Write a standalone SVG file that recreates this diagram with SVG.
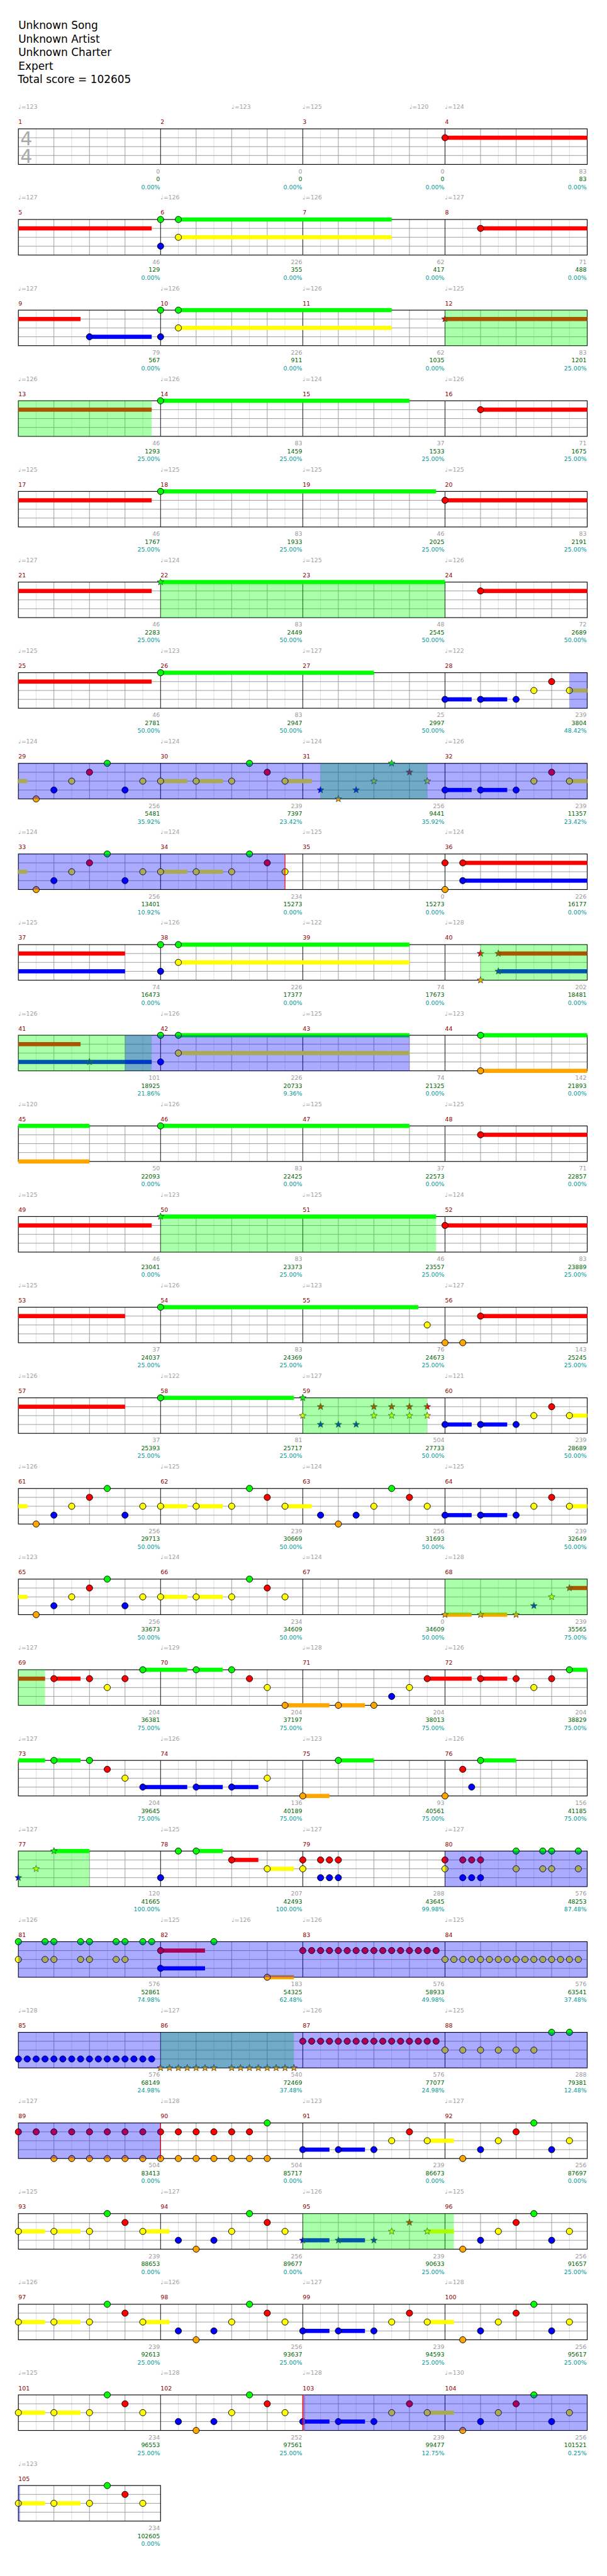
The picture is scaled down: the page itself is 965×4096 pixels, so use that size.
<svg xmlns="http://www.w3.org/2000/svg" xmlns:xlink="http://www.w3.org/1999/xlink" width="965" height="4096" viewBox="0 0 965 4096">
<style>
text{font-family:"DejaVu Sans","Liberation Sans",sans-serif}
.h{font-size:18px;fill:#000}
.tp{font-size:10px;fill:#a0a0a0}
.mn{font-size:10px;fill:#8b0000}
.l1{font-size:10px;fill:#999;text-anchor:end}
.l2{font-size:10px;fill:#006400;text-anchor:end}
.l3{font-size:10px;fill:#009999;text-anchor:end}
.ts{font-size:32px;fill:#aaa;text-anchor:middle}
.g{fill:#00ff00}.r{fill:#ff0000}.y{fill:#ffff00}.b{fill:#0000ff}.o{fill:#ffa500}
.n{stroke:#000;stroke-width:1}
.s{stroke:#333;stroke-width:.8}
.sp{fill:#00ff00;fill-opacity:.333}
.ac{fill:#0000ff;fill-opacity:.333}
.el{stroke:#f00;stroke-width:1.2}
</style>
<defs>
<g id="m">
<path d="M30,0V60M90,0V60M150,0V60M210,0V60" stroke="#ddd"/>
<path d="M60,0V60M120,0V60M180,0V60" stroke="#999"/>
<path d="M0,15H240M0,30H240M0,45H240" stroke="#999"/>
</g>
<g id="st4">
<use href="#m"/><use href="#m" x="240"/><use href="#m" x="480"/><use href="#m" x="720"/>
<path d="M240,0V60M480,0V60M720,0V60" stroke="#000"/>
<rect width="960" height="60" fill="none" stroke="#000" stroke-width="1.2"/>
</g>
<circle id="G" r="5.3" class="g n"/>
<circle id="R" cy="15" r="5.3" class="r n"/>
<circle id="Y" cy="30" r="5.3" class="y n"/>
<circle id="B" cy="45" r="5.3" class="b n"/>
<circle id="O" cy="60" r="5.3" class="o n"/>
<path id="SG" class="g s" d="M0,-6L1.47,-2.02L5.71,-1.85L2.38,0.77L3.53,4.85L0,2.5L-3.53,4.85L-2.38,0.77L-5.71,-1.85L-1.47,-2.02Z"/>
<path id="SR" class="r s" transform="translate(0,15)" d="M0,-6L1.47,-2.02L5.71,-1.85L2.38,0.77L3.53,4.85L0,2.5L-3.53,4.85L-2.38,0.77L-5.71,-1.85L-1.47,-2.02Z"/>
<path id="SY" class="y s" transform="translate(0,30)" d="M0,-6L1.47,-2.02L5.71,-1.85L2.38,0.77L3.53,4.85L0,2.5L-3.53,4.85L-2.38,0.77L-5.71,-1.85L-1.47,-2.02Z"/>
<path id="SB" class="b s" transform="translate(0,45)" d="M0,-6L1.47,-2.02L5.71,-1.85L2.38,0.77L3.53,4.85L0,2.5L-3.53,4.85L-2.38,0.77L-5.71,-1.85L-1.47,-2.02Z"/>
<path id="SO" class="o s" transform="translate(0,60)" d="M0,-6L1.47,-2.02L5.71,-1.85L2.38,0.77L3.53,4.85L0,2.5L-3.53,4.85L-2.38,0.77L-5.71,-1.85L-1.47,-2.02Z"/>
</defs>
<rect width="965" height="4096" fill="#fff"/>
<g transform="scale(0.942)">
<g id="header">
<text class="h" x="31" y="49.3">Unknown Song</text>
<text class="h" x="31" y="72.1">Unknown Artist</text>
<text class="h" x="31" y="94.9">Unknown Charter</text>
<text class="h" x="31" y="117.7">Expert</text>
<text class="h" x="30" y="140.5">Total score = 102605</text>
</g>

<g id="row1" transform="translate(31,217.5)">
<text class="tp" y="-33.5"><tspan x="0">♩=123</tspan><tspan x="360">♩=123</tspan><tspan x="480">♩=125</tspan><tspan x="660">♩=120</tspan><tspan x="720">♩=124</tspan></text>
<text class="mn" y="-8"><tspan x="0">1</tspan><tspan x="240">2</tspan><tspan x="480">3</tspan><tspan x="720">4</tspan></text>
<use href="#st4"/>
<text class="ts" x="13.5" y="27.5">4</text><text class="ts" x="13.5" y="57.5">4</text>
<rect class="r" x="720" y="11.5" width="240" height="7"/>
<use href="#R" x="720"/>
<text class="l1" y="75.2"><tspan x="239">0</tspan><tspan x="479">0</tspan><tspan x="719">0</tspan><tspan x="959">83</tspan></text>
<text class="l2" y="88.5"><tspan x="239">0</tspan><tspan x="479">0</tspan><tspan x="719">0</tspan><tspan x="959">83</tspan></text>
<text class="l3" y="101.7"><tspan x="239">0.00%</tspan><tspan x="479">0.00%</tspan><tspan x="719">0.00%</tspan><tspan x="959">0.00%</tspan></text>
</g>

<g id="row2" transform="translate(31,370.5)">
<text class="tp" y="-33.5"><tspan x="0">♩=127</tspan><tspan x="240">♩=126</tspan><tspan x="480">♩=126</tspan><tspan x="720">♩=127</tspan></text>
<text class="mn" y="-8"><tspan x="0">5</tspan><tspan x="240">6</tspan><tspan x="480">7</tspan><tspan x="720">8</tspan></text>
<use href="#st4"/>
<rect class="r" x="0" y="11.5" width="225" height="7"/>
<rect class="g" x="270" y="-3.5" width="360" height="7"/>
<rect class="y" x="270" y="26.5" width="360" height="7"/>
<rect class="r" x="780" y="11.5" width="180" height="7"/>
<use href="#G" x="240"/><use href="#B" x="240"/><use href="#G" x="270"/><use href="#Y" x="270"/><use href="#R" x="780"/>
<text class="l1" y="75.2"><tspan x="239">46</tspan><tspan x="479">226</tspan><tspan x="719">62</tspan><tspan x="959">71</tspan></text>
<text class="l2" y="88.5"><tspan x="239">129</tspan><tspan x="479">355</tspan><tspan x="719">417</tspan><tspan x="959">488</tspan></text>
<text class="l3" y="101.7"><tspan x="239">0.00%</tspan><tspan x="479">0.00%</tspan><tspan x="719">0.00%</tspan><tspan x="959">0.00%</tspan></text>
</g>

<g id="row3" transform="translate(31,523.5)">
<text class="tp" y="-33.5"><tspan x="0">♩=127</tspan><tspan x="240">♩=126</tspan><tspan x="480">♩=126</tspan><tspan x="720">♩=125</tspan></text>
<text class="mn" y="-8"><tspan x="0">9</tspan><tspan x="240">10</tspan><tspan x="480">11</tspan><tspan x="720">12</tspan></text>
<use href="#st4"/>
<rect class="r" x="0" y="11.5" width="105" height="7"/>
<rect class="b" x="120" y="41.5" width="105" height="7"/>
<rect class="g" x="270" y="-3.5" width="360" height="7"/>
<rect class="y" x="270" y="26.5" width="360" height="7"/>
<rect class="r" x="720" y="11.5" width="240" height="7"/>
<use href="#B" x="120"/><use href="#B" x="240"/><use href="#G" x="240"/><use href="#G" x="270"/><use href="#Y" x="270"/><use href="#SR" x="720"/>
<rect class="sp" x="720" y="0" width="240" height="60"/>
<text class="l1" y="75.2"><tspan x="239">79</tspan><tspan x="479">226</tspan><tspan x="719">62</tspan><tspan x="959">83</tspan></text>
<text class="l2" y="88.5"><tspan x="239">567</tspan><tspan x="479">911</tspan><tspan x="719">1035</tspan><tspan x="959">1201</tspan></text>
<text class="l3" y="101.7"><tspan x="239">0.00%</tspan><tspan x="479">0.00%</tspan><tspan x="719">0.00%</tspan><tspan x="959">25.00%</tspan></text>
</g>

<g id="row4" transform="translate(31,676.5)">
<text class="tp" y="-33.5"><tspan x="0">♩=126</tspan><tspan x="240">♩=126</tspan><tspan x="480">♩=124</tspan><tspan x="720">♩=126</tspan></text>
<text class="mn" y="-8"><tspan x="0">13</tspan><tspan x="240">14</tspan><tspan x="480">15</tspan><tspan x="720">16</tspan></text>
<use href="#st4"/>
<rect class="r" x="0" y="11.5" width="225" height="7"/>
<rect class="g" x="240" y="-3.5" width="420" height="7"/>
<rect class="r" x="780" y="11.5" width="180" height="7"/>
<use href="#G" x="240"/><use href="#R" x="780"/>
<rect class="sp" x="0" y="0" width="225" height="60"/>
<text class="l1" y="75.2"><tspan x="239">46</tspan><tspan x="479">83</tspan><tspan x="719">37</tspan><tspan x="959">71</tspan></text>
<text class="l2" y="88.5"><tspan x="239">1293</tspan><tspan x="479">1459</tspan><tspan x="719">1533</tspan><tspan x="959">1675</tspan></text>
<text class="l3" y="101.7"><tspan x="239">25.00%</tspan><tspan x="479">25.00%</tspan><tspan x="719">25.00%</tspan><tspan x="959">25.00%</tspan></text>
</g>

<g id="row5" transform="translate(31,829.5)">
<text class="tp" y="-33.5"><tspan x="0">♩=125</tspan><tspan x="240">♩=125</tspan><tspan x="480">♩=125</tspan><tspan x="720">♩=125</tspan></text>
<text class="mn" y="-8"><tspan x="0">17</tspan><tspan x="240">18</tspan><tspan x="480">19</tspan><tspan x="720">20</tspan></text>
<use href="#st4"/>
<rect class="r" x="0" y="11.5" width="225" height="7"/>
<rect class="g" x="240" y="-3.5" width="465" height="7"/>
<rect class="r" x="720" y="11.5" width="240" height="7"/>
<use href="#G" x="240"/><use href="#R" x="720"/>
<text class="l1" y="75.2"><tspan x="239">46</tspan><tspan x="479">83</tspan><tspan x="719">46</tspan><tspan x="959">83</tspan></text>
<text class="l2" y="88.5"><tspan x="239">1767</tspan><tspan x="479">1933</tspan><tspan x="719">2025</tspan><tspan x="959">2191</tspan></text>
<text class="l3" y="101.7"><tspan x="239">25.00%</tspan><tspan x="479">25.00%</tspan><tspan x="719">25.00%</tspan><tspan x="959">25.00%</tspan></text>
</g>

<g id="row6" transform="translate(31,982.5)">
<text class="tp" y="-33.5"><tspan x="0">♩=127</tspan><tspan x="240">♩=124</tspan><tspan x="480">♩=125</tspan><tspan x="720">♩=126</tspan></text>
<text class="mn" y="-8"><tspan x="0">21</tspan><tspan x="240">22</tspan><tspan x="480">23</tspan><tspan x="720">24</tspan></text>
<use href="#st4"/>
<rect class="r" x="0" y="11.5" width="225" height="7"/>
<rect class="g" x="240" y="-3.5" width="480" height="7"/>
<rect class="r" x="780" y="11.5" width="180" height="7"/>
<use href="#SG" x="240"/><use href="#R" x="780"/>
<rect class="sp" x="240" y="0" width="480" height="60"/>
<text class="l1" y="75.2"><tspan x="239">46</tspan><tspan x="479">83</tspan><tspan x="719">48</tspan><tspan x="959">72</tspan></text>
<text class="l2" y="88.5"><tspan x="239">2283</tspan><tspan x="479">2449</tspan><tspan x="719">2545</tspan><tspan x="959">2689</tspan></text>
<text class="l3" y="101.7"><tspan x="239">25.00%</tspan><tspan x="479">50.00%</tspan><tspan x="719">50.00%</tspan><tspan x="959">50.00%</tspan></text>
</g>

<g id="row7" transform="translate(31,1135.5)">
<text class="tp" y="-33.5"><tspan x="0">♩=125</tspan><tspan x="240">♩=123</tspan><tspan x="480">♩=127</tspan><tspan x="720">♩=122</tspan></text>
<text class="mn" y="-8"><tspan x="0">25</tspan><tspan x="240">26</tspan><tspan x="480">27</tspan><tspan x="720">28</tspan></text>
<use href="#st4"/>
<rect class="r" x="0" y="11.5" width="225" height="7"/>
<rect class="g" x="240" y="-3.5" width="360" height="7"/>
<rect class="b" x="720" y="41.5" width="45" height="7"/>
<rect class="b" x="780" y="41.5" width="45" height="7"/>
<rect class="y" x="930" y="26.5" width="30" height="7"/>
<use href="#G" x="240"/><use href="#B" x="720"/><use href="#B" x="780"/><use href="#B" x="840"/><use href="#Y" x="870"/><use href="#R" x="900"/><use href="#Y" x="930"/>
<rect class="ac" x="930" y="0" width="30" height="60"/>
<text class="l1" y="75.2"><tspan x="239">46</tspan><tspan x="479">83</tspan><tspan x="719">25</tspan><tspan x="959">239</tspan></text>
<text class="l2" y="88.5"><tspan x="239">2781</tspan><tspan x="479">2947</tspan><tspan x="719">2997</tspan><tspan x="959">3804</tspan></text>
<text class="l3" y="101.7"><tspan x="239">50.00%</tspan><tspan x="479">50.00%</tspan><tspan x="719">50.00%</tspan><tspan x="959">48.42%</tspan></text>
</g>

<g id="row8" transform="translate(31,1288.5)">
<text class="tp" y="-33.5"><tspan x="0">♩=124</tspan><tspan x="240">♩=124</tspan><tspan x="480">♩=124</tspan><tspan x="720">♩=126</tspan></text>
<text class="mn" y="-8"><tspan x="0">29</tspan><tspan x="240">30</tspan><tspan x="480">31</tspan><tspan x="720">32</tspan></text>
<use href="#st4"/>
<rect class="y" x="0" y="26.5" width="15" height="7"/>
<rect class="y" x="240" y="26.5" width="45" height="7"/>
<rect class="y" x="300" y="26.5" width="45" height="7"/>
<rect class="y" x="450" y="26.5" width="45" height="7"/>
<rect class="b" x="720" y="41.5" width="45" height="7"/>
<rect class="b" x="780" y="41.5" width="45" height="7"/>
<rect class="y" x="930" y="26.5" width="30" height="7"/>
<use href="#O" x="30"/><use href="#B" x="60"/><use href="#Y" x="90"/><use href="#R" x="120"/><use href="#G" x="150"/><use href="#B" x="180"/><use href="#Y" x="210"/><use href="#Y" x="240"/><use href="#Y" x="300"/><use href="#Y" x="360"/><use href="#G" x="390"/><use href="#R" x="420"/><use href="#Y" x="450"/>
<use href="#SB" x="510"/><use href="#SO" x="540"/><use href="#SB" x="570"/><use href="#SY" x="600"/><use href="#SG" x="630"/><use href="#SR" x="660"/><use href="#SY" x="690"/>
<use href="#B" x="720"/><use href="#B" x="780"/><use href="#B" x="840"/><use href="#Y" x="870"/><use href="#R" x="900"/><use href="#Y" x="930"/>
<rect class="sp" x="510" y="0" width="180" height="60"/>
<rect class="ac" x="0" y="0" width="960" height="60"/>
<text class="l1" y="75.2"><tspan x="239">256</tspan><tspan x="479">239</tspan><tspan x="719">256</tspan><tspan x="959">239</tspan></text>
<text class="l2" y="88.5"><tspan x="239">5481</tspan><tspan x="479">7397</tspan><tspan x="719">9441</tspan><tspan x="959">11357</tspan></text>
<text class="l3" y="101.7"><tspan x="239">35.92%</tspan><tspan x="479">23.42%</tspan><tspan x="719">35.92%</tspan><tspan x="959">23.42%</tspan></text>
</g>

<g id="row9" transform="translate(31,1441.5)">
<text class="tp" y="-33.5"><tspan x="0">♩=124</tspan><tspan x="240">♩=124</tspan><tspan x="480">♩=125</tspan><tspan x="720">♩=124</tspan></text>
<text class="mn" y="-8"><tspan x="0">33</tspan><tspan x="240">34</tspan><tspan x="480">35</tspan><tspan x="720">36</tspan></text>
<use href="#st4"/>
<rect class="y" x="0" y="26.5" width="15" height="7"/>
<rect class="y" x="240" y="26.5" width="45" height="7"/>
<rect class="y" x="300" y="26.5" width="45" height="7"/>
<rect class="r" x="750" y="11.5" width="210" height="7"/>
<rect class="b" x="750" y="41.5" width="210" height="7"/>
<use href="#O" x="30"/><use href="#B" x="60"/><use href="#Y" x="90"/><use href="#R" x="120"/><use href="#G" x="150"/><use href="#B" x="180"/><use href="#Y" x="210"/><use href="#Y" x="240"/><use href="#Y" x="300"/><use href="#Y" x="360"/><use href="#G" x="390"/><use href="#R" x="420"/><use href="#Y" x="450"/>
<use href="#R" x="720"/><use href="#O" x="720"/><use href="#R" x="750"/><use href="#B" x="750"/>
<rect class="ac" x="0" y="0" width="450" height="60"/>
<path class="el" d="M450,0V60"/>
<text class="l1" y="75.2"><tspan x="239">256</tspan><tspan x="479">234</tspan><tspan x="719">0</tspan><tspan x="959">226</tspan></text>
<text class="l2" y="88.5"><tspan x="239">13401</tspan><tspan x="479">15273</tspan><tspan x="719">15273</tspan><tspan x="959">16177</tspan></text>
<text class="l3" y="101.7"><tspan x="239">10.92%</tspan><tspan x="479">0.00%</tspan><tspan x="719">0.00%</tspan><tspan x="959">0.00%</tspan></text>
</g>

<g id="row10" transform="translate(31,1594.5)">
<text class="tp" y="-33.5"><tspan x="0">♩=125</tspan><tspan x="240">♩=126</tspan><tspan x="480">♩=122</tspan><tspan x="720">♩=128</tspan></text>
<text class="mn" y="-8"><tspan x="0">37</tspan><tspan x="240">38</tspan><tspan x="480">39</tspan><tspan x="720">40</tspan></text>
<use href="#st4"/>
<rect class="r" x="0" y="11.5" width="180" height="7"/>
<rect class="b" x="0" y="41.5" width="180" height="7"/>
<rect class="g" x="270" y="-3.5" width="390" height="7"/>
<rect class="y" x="270" y="26.5" width="390" height="7"/>
<rect class="r" x="810" y="11.5" width="150" height="7"/>
<rect class="b" x="810" y="41.5" width="150" height="7"/>
<use href="#G" x="240"/><use href="#B" x="240"/><use href="#G" x="270"/><use href="#Y" x="270"/>
<use href="#SR" x="780"/><use href="#SO" x="780"/><use href="#SR" x="810"/><use href="#SB" x="810"/>
<rect class="sp" x="780" y="0" width="180" height="60"/>
<text class="l1" y="75.2"><tspan x="239">74</tspan><tspan x="479">226</tspan><tspan x="719">74</tspan><tspan x="959">202</tspan></text>
<text class="l2" y="88.5"><tspan x="239">16473</tspan><tspan x="479">17377</tspan><tspan x="719">17673</tspan><tspan x="959">18481</tspan></text>
<text class="l3" y="101.7"><tspan x="239">0.00%</tspan><tspan x="479">0.00%</tspan><tspan x="719">0.00%</tspan><tspan x="959">0.00%</tspan></text>
</g>

<g id="row11" transform="translate(31,1747.5)">
<text class="tp" y="-33.5"><tspan x="0">♩=126</tspan><tspan x="240">♩=126</tspan><tspan x="480">♩=125</tspan><tspan x="720">♩=123</tspan></text>
<text class="mn" y="-8"><tspan x="0">41</tspan><tspan x="240">42</tspan><tspan x="480">43</tspan><tspan x="720">44</tspan></text>
<use href="#st4"/>
<rect class="r" x="0" y="11.5" width="105" height="7"/>
<rect class="b" x="0" y="41.5" width="225" height="7"/>
<rect class="g" x="270" y="-3.5" width="390" height="7"/>
<rect class="y" x="270" y="26.5" width="390" height="7"/>
<rect class="g" x="780" y="-3.5" width="180" height="7"/>
<rect class="o" x="780" y="56.5" width="180" height="7"/>
<use href="#SB" x="120"/><use href="#G" x="240"/><use href="#B" x="240"/><use href="#G" x="270"/><use href="#Y" x="270"/><use href="#G" x="780"/><use href="#O" x="780"/>
<rect class="sp" x="0" y="0" width="225" height="60"/>
<rect class="ac" x="180" y="0" width="480" height="60"/>
<text class="l1" y="75.2"><tspan x="239">101</tspan><tspan x="479">226</tspan><tspan x="719">74</tspan><tspan x="959">142</tspan></text>
<text class="l2" y="88.5"><tspan x="239">18925</tspan><tspan x="479">20733</tspan><tspan x="719">21325</tspan><tspan x="959">21893</tspan></text>
<text class="l3" y="101.7"><tspan x="239">21.86%</tspan><tspan x="479">9.36%</tspan><tspan x="719">0.00%</tspan><tspan x="959">0.00%</tspan></text>
</g>

<g id="row12" transform="translate(31,1900.5)">
<text class="tp" y="-33.5"><tspan x="0">♩=120</tspan><tspan x="240">♩=126</tspan><tspan x="480">♩=125</tspan><tspan x="720">♩=125</tspan></text>
<text class="mn" y="-8"><tspan x="0">45</tspan><tspan x="240">46</tspan><tspan x="480">47</tspan><tspan x="720">48</tspan></text>
<use href="#st4"/>
<rect class="g" x="0" y="-3.5" width="120" height="7"/>
<rect class="o" x="0" y="56.5" width="120" height="7"/>
<rect class="g" x="240" y="-3.5" width="420" height="7"/>
<rect class="r" x="780" y="11.5" width="180" height="7"/>
<use href="#G" x="240"/><use href="#R" x="780"/>
<text class="l1" y="75.2"><tspan x="239">50</tspan><tspan x="479">83</tspan><tspan x="719">37</tspan><tspan x="959">71</tspan></text>
<text class="l2" y="88.5"><tspan x="239">22093</tspan><tspan x="479">22425</tspan><tspan x="719">22573</tspan><tspan x="959">22857</tspan></text>
<text class="l3" y="101.7"><tspan x="239">0.00%</tspan><tspan x="479">0.00%</tspan><tspan x="719">0.00%</tspan><tspan x="959">0.00%</tspan></text>
</g>

<g id="row13" transform="translate(31,2053.5)">
<text class="tp" y="-33.5"><tspan x="0">♩=125</tspan><tspan x="240">♩=123</tspan><tspan x="480">♩=125</tspan><tspan x="720">♩=124</tspan></text>
<text class="mn" y="-8"><tspan x="0">49</tspan><tspan x="240">50</tspan><tspan x="480">51</tspan><tspan x="720">52</tspan></text>
<use href="#st4"/>
<rect class="r" x="0" y="11.5" width="225" height="7"/>
<rect class="g" x="240" y="-3.5" width="465" height="7"/>
<rect class="r" x="720" y="11.5" width="240" height="7"/>
<use href="#SG" x="240"/><use href="#R" x="720"/>
<rect class="sp" x="240" y="0" width="465" height="60"/>
<text class="l1" y="75.2"><tspan x="239">46</tspan><tspan x="479">83</tspan><tspan x="719">46</tspan><tspan x="959">83</tspan></text>
<text class="l2" y="88.5"><tspan x="239">23041</tspan><tspan x="479">23373</tspan><tspan x="719">23557</tspan><tspan x="959">23889</tspan></text>
<text class="l3" y="101.7"><tspan x="239">0.00%</tspan><tspan x="479">25.00%</tspan><tspan x="719">25.00%</tspan><tspan x="959">25.00%</tspan></text>
</g>

<g id="row14" transform="translate(31,2206.5)">
<text class="tp" y="-33.5"><tspan x="0">♩=125</tspan><tspan x="240">♩=126</tspan><tspan x="480">♩=123</tspan><tspan x="720">♩=127</tspan></text>
<text class="mn" y="-8"><tspan x="0">53</tspan><tspan x="240">54</tspan><tspan x="480">55</tspan><tspan x="720">56</tspan></text>
<use href="#st4"/>
<rect class="r" x="0" y="11.5" width="180" height="7"/>
<rect class="g" x="240" y="-3.5" width="435" height="7"/>
<rect class="r" x="780" y="11.5" width="180" height="7"/>
<use href="#G" x="240"/><use href="#Y" x="690"/><use href="#O" x="720"/><use href="#O" x="750"/><use href="#R" x="780"/>
<text class="l1" y="75.2"><tspan x="239">37</tspan><tspan x="479">83</tspan><tspan x="719">76</tspan><tspan x="959">143</tspan></text>
<text class="l2" y="88.5"><tspan x="239">24037</tspan><tspan x="479">24369</tspan><tspan x="719">24673</tspan><tspan x="959">25245</tspan></text>
<text class="l3" y="101.7"><tspan x="239">25.00%</tspan><tspan x="479">25.00%</tspan><tspan x="719">25.00%</tspan><tspan x="959">25.00%</tspan></text>
</g>

<g id="row15" transform="translate(31,2359.5)">
<text class="tp" y="-33.5"><tspan x="0">♩=126</tspan><tspan x="240">♩=122</tspan><tspan x="480">♩=127</tspan><tspan x="720">♩=121</tspan></text>
<text class="mn" y="-8"><tspan x="0">57</tspan><tspan x="240">58</tspan><tspan x="480">59</tspan><tspan x="720">60</tspan></text>
<use href="#st4"/>
<rect class="r" x="0" y="11.5" width="180" height="7"/>
<rect class="g" x="240" y="-3.5" width="225" height="7"/>
<rect class="b" x="720" y="41.5" width="45" height="7"/>
<rect class="b" x="780" y="41.5" width="45" height="7"/>
<rect class="y" x="930" y="26.5" width="30" height="7"/>
<use href="#G" x="240"/>
<use href="#SG" x="480"/><use href="#SY" x="480"/><use href="#SR" x="510"/><use href="#SB" x="510"/><use href="#SB" x="540"/><use href="#SB" x="570"/><use href="#SR" x="600"/><use href="#SY" x="600"/><use href="#SR" x="630"/><use href="#SY" x="630"/><use href="#SR" x="660"/><use href="#SY" x="660"/><use href="#SR" x="690"/><use href="#SY" x="690"/>
<use href="#B" x="720"/><use href="#B" x="780"/><use href="#B" x="840"/><use href="#Y" x="870"/><use href="#R" x="900"/><use href="#Y" x="930"/>
<rect class="sp" x="480" y="0" width="210" height="60"/>
<text class="l1" y="75.2"><tspan x="239">37</tspan><tspan x="479">81</tspan><tspan x="719">504</tspan><tspan x="959">239</tspan></text>
<text class="l2" y="88.5"><tspan x="239">25393</tspan><tspan x="479">25717</tspan><tspan x="719">27733</tspan><tspan x="959">28689</tspan></text>
<text class="l3" y="101.7"><tspan x="239">25.00%</tspan><tspan x="479">25.00%</tspan><tspan x="719">50.00%</tspan><tspan x="959">50.00%</tspan></text>
</g>

<g id="row16" transform="translate(31,2512.5)">
<text class="tp" y="-33.5"><tspan x="0">♩=126</tspan><tspan x="240">♩=125</tspan><tspan x="480">♩=124</tspan><tspan x="720">♩=125</tspan></text>
<text class="mn" y="-8"><tspan x="0">61</tspan><tspan x="240">62</tspan><tspan x="480">63</tspan><tspan x="720">64</tspan></text>
<use href="#st4"/>
<rect class="y" x="0" y="26.5" width="15" height="7"/>
<rect class="y" x="240" y="26.5" width="45" height="7"/>
<rect class="y" x="300" y="26.5" width="45" height="7"/>
<rect class="y" x="450" y="26.5" width="45" height="7"/>
<rect class="b" x="720" y="41.5" width="45" height="7"/>
<rect class="b" x="780" y="41.5" width="45" height="7"/>
<rect class="y" x="930" y="26.5" width="30" height="7"/>
<use href="#O" x="30"/><use href="#B" x="60"/><use href="#Y" x="90"/><use href="#R" x="120"/><use href="#G" x="150"/><use href="#B" x="180"/><use href="#Y" x="210"/><use href="#Y" x="240"/><use href="#Y" x="300"/><use href="#Y" x="360"/><use href="#G" x="390"/><use href="#R" x="420"/><use href="#Y" x="450"/>
<use href="#B" x="510"/><use href="#O" x="540"/><use href="#B" x="570"/><use href="#Y" x="600"/><use href="#G" x="630"/><use href="#R" x="660"/><use href="#Y" x="690"/>
<use href="#B" x="720"/><use href="#B" x="780"/><use href="#B" x="840"/><use href="#Y" x="870"/><use href="#R" x="900"/><use href="#Y" x="930"/>
<text class="l1" y="75.2"><tspan x="239">256</tspan><tspan x="479">239</tspan><tspan x="719">256</tspan><tspan x="959">239</tspan></text>
<text class="l2" y="88.5"><tspan x="239">29713</tspan><tspan x="479">30669</tspan><tspan x="719">31693</tspan><tspan x="959">32649</tspan></text>
<text class="l3" y="101.7"><tspan x="239">50.00%</tspan><tspan x="479">50.00%</tspan><tspan x="719">50.00%</tspan><tspan x="959">50.00%</tspan></text>
</g>

<g id="row17" transform="translate(31,2665.5)">
<text class="tp" y="-33.5"><tspan x="0">♩=123</tspan><tspan x="240">♩=124</tspan><tspan x="480">♩=124</tspan><tspan x="720">♩=128</tspan></text>
<text class="mn" y="-8"><tspan x="0">65</tspan><tspan x="240">66</tspan><tspan x="480">67</tspan><tspan x="720">68</tspan></text>
<use href="#st4"/>
<rect class="y" x="0" y="26.5" width="15" height="7"/>
<rect class="y" x="240" y="26.5" width="45" height="7"/>
<rect class="y" x="300" y="26.5" width="45" height="7"/>
<rect class="o" x="720" y="56.5" width="45" height="7"/>
<rect class="o" x="780" y="56.5" width="45" height="7"/>
<rect class="r" x="930" y="11.5" width="30" height="7"/>
<use href="#O" x="30"/><use href="#B" x="60"/><use href="#Y" x="90"/><use href="#R" x="120"/><use href="#G" x="150"/><use href="#B" x="180"/><use href="#Y" x="210"/><use href="#Y" x="240"/><use href="#Y" x="300"/><use href="#Y" x="360"/><use href="#G" x="390"/><use href="#R" x="420"/><use href="#Y" x="450"/>
<use href="#SO" x="720"/><use href="#SO" x="780"/><use href="#SO" x="840"/><use href="#SB" x="870"/><use href="#SY" x="900"/><use href="#SR" x="930"/>
<rect class="sp" x="720" y="0" width="240" height="60"/>
<text class="l1" y="75.2"><tspan x="239">256</tspan><tspan x="479">234</tspan><tspan x="719">0</tspan><tspan x="959">239</tspan></text>
<text class="l2" y="88.5"><tspan x="239">33673</tspan><tspan x="479">34609</tspan><tspan x="719">34609</tspan><tspan x="959">35565</tspan></text>
<text class="l3" y="101.7"><tspan x="239">50.00%</tspan><tspan x="479">50.00%</tspan><tspan x="719">50.00%</tspan><tspan x="959">75.00%</tspan></text>
</g>

<g id="row18" transform="translate(31,2818.5)">
<text class="tp" y="-33.5"><tspan x="0">♩=127</tspan><tspan x="240">♩=129</tspan><tspan x="480">♩=128</tspan><tspan x="720">♩=126</tspan></text>
<text class="mn" y="-8"><tspan x="0">69</tspan><tspan x="240">70</tspan><tspan x="480">71</tspan><tspan x="720">72</tspan></text>
<use href="#st4"/>
<rect class="r" x="0" y="11.5" width="45" height="7"/>
<rect class="r" x="60" y="11.5" width="45" height="7"/>
<rect class="g" x="210" y="-3.5" width="75" height="7"/>
<rect class="g" x="300" y="-3.5" width="45" height="7"/>
<rect class="o" x="450" y="56.5" width="75" height="7"/>
<rect class="o" x="540" y="56.5" width="45" height="7"/>
<rect class="r" x="690" y="11.5" width="75" height="7"/>
<rect class="r" x="780" y="11.5" width="45" height="7"/>
<rect class="g" x="930" y="-3.5" width="30" height="7"/>
<use href="#R" x="60"/><use href="#R" x="120"/><use href="#Y" x="150"/><use href="#R" x="180"/><use href="#G" x="210"/><use href="#G" x="300"/><use href="#G" x="360"/><use href="#R" x="390"/><use href="#Y" x="420"/><use href="#O" x="450"/><use href="#O" x="540"/><use href="#O" x="600"/><use href="#B" x="630"/><use href="#Y" x="660"/><use href="#R" x="690"/><use href="#R" x="780"/><use href="#R" x="840"/><use href="#Y" x="870"/><use href="#R" x="900"/><use href="#G" x="930"/>
<rect class="sp" x="0" y="0" width="45" height="60"/>
<text class="l1" y="75.2"><tspan x="239">204</tspan><tspan x="479">204</tspan><tspan x="719">204</tspan><tspan x="959">204</tspan></text>
<text class="l2" y="88.5"><tspan x="239">36381</tspan><tspan x="479">37197</tspan><tspan x="719">38013</tspan><tspan x="959">38829</tspan></text>
<text class="l3" y="101.7"><tspan x="239">75.00%</tspan><tspan x="479">75.00%</tspan><tspan x="719">75.00%</tspan><tspan x="959">75.00%</tspan></text>
</g>

<g id="row19" transform="translate(31,2971.5)">
<text class="tp" y="-33.5"><tspan x="0">♩=127</tspan><tspan x="240">♩=126</tspan><tspan x="480">♩=123</tspan><tspan x="720">♩=126</tspan></text>
<text class="mn" y="-8"><tspan x="0">73</tspan><tspan x="240">74</tspan><tspan x="480">75</tspan><tspan x="720">76</tspan></text>
<use href="#st4"/>
<rect class="g" x="0" y="-3.5" width="45" height="7"/>
<rect class="g" x="60" y="-3.5" width="45" height="7"/>
<rect class="b" x="210" y="41.5" width="75" height="7"/>
<rect class="b" x="300" y="41.5" width="45" height="7"/>
<rect class="b" x="360" y="41.5" width="45" height="7"/>
<rect class="o" x="480" y="56.5" width="45" height="7"/>
<rect class="g" x="540" y="-3.5" width="60" height="7"/>
<rect class="g" x="780" y="-3.5" width="60" height="7"/>
<use href="#G" x="60"/><use href="#G" x="120"/><use href="#R" x="150"/><use href="#Y" x="180"/><use href="#B" x="210"/><use href="#B" x="300"/><use href="#B" x="360"/><use href="#Y" x="420"/><use href="#O" x="480"/><use href="#G" x="540"/><use href="#O" x="720"/><use href="#R" x="750"/><use href="#B" x="765"/><use href="#G" x="780"/>
<text class="l1" y="75.2"><tspan x="239">204</tspan><tspan x="479">136</tspan><tspan x="719">93</tspan><tspan x="959">156</tspan></text>
<text class="l2" y="88.5"><tspan x="239">39645</tspan><tspan x="479">40189</tspan><tspan x="719">40561</tspan><tspan x="959">41185</tspan></text>
<text class="l3" y="101.7"><tspan x="239">75.00%</tspan><tspan x="479">75.00%</tspan><tspan x="719">75.00%</tspan><tspan x="959">75.00%</tspan></text>
</g>

<g id="row20" transform="translate(31,3124.5)">
<text class="tp" y="-33.5"><tspan x="0">♩=127</tspan><tspan x="240">♩=125</tspan><tspan x="480">♩=127</tspan><tspan x="720">♩=127</tspan></text>
<text class="mn" y="-8"><tspan x="0">77</tspan><tspan x="240">78</tspan><tspan x="480">79</tspan><tspan x="720">80</tspan></text>
<use href="#st4"/>
<rect class="g" x="60" y="-3.5" width="60" height="7"/>
<rect class="g" x="300" y="-3.5" width="45" height="7"/>
<rect class="r" x="360" y="11.5" width="45" height="7"/>
<rect class="y" x="420" y="26.5" width="45" height="7"/>
<use href="#SB" x="0"/><use href="#SY" x="30"/><use href="#SG" x="60"/>
<use href="#B" x="240"/><use href="#G" x="270"/><use href="#G" x="300"/><use href="#R" x="360"/><use href="#Y" x="420"/>
<use href="#R" x="480"/><use href="#Y" x="480"/><use href="#R" x="510"/><use href="#B" x="510"/><use href="#R" x="525"/><use href="#B" x="525"/><use href="#R" x="540"/><use href="#B" x="540"/>
<use href="#R" x="720"/><use href="#Y" x="720"/><use href="#R" x="750"/><use href="#B" x="750"/><use href="#R" x="765"/><use href="#B" x="765"/><use href="#R" x="780"/><use href="#B" x="780"/>
<use href="#G" x="840"/><use href="#Y" x="840"/><use href="#G" x="885"/><use href="#Y" x="885"/><use href="#G" x="900"/><use href="#Y" x="900"/><use href="#G" x="945"/><use href="#Y" x="945"/>
<rect class="sp" x="0" y="0" width="120" height="60"/>
<rect class="ac" x="720" y="0" width="240" height="60"/>
<text class="l1" y="75.2"><tspan x="239">120</tspan><tspan x="479">207</tspan><tspan x="719">288</tspan><tspan x="959">576</tspan></text>
<text class="l2" y="88.5"><tspan x="239">41665</tspan><tspan x="479">42493</tspan><tspan x="719">43645</tspan><tspan x="959">48253</tspan></text>
<text class="l3" y="101.7"><tspan x="239">100.00%</tspan><tspan x="479">100.00%</tspan><tspan x="719">99.98%</tspan><tspan x="959">87.48%</tspan></text>
</g>

<g id="row21" transform="translate(31,3277.5)">
<text class="tp" y="-33.5"><tspan x="0">♩=126</tspan><tspan x="240">♩=125</tspan><tspan x="360">♩=126</tspan><tspan x="480">♩=126</tspan><tspan x="720">♩=125</tspan></text>
<text class="mn" y="-8"><tspan x="0">81</tspan><tspan x="240">82</tspan><tspan x="480">83</tspan><tspan x="720">84</tspan></text>
<use href="#st4"/>
<rect class="r" x="240" y="11.5" width="75" height="7"/>
<rect class="b" x="240" y="41.5" width="75" height="7"/>
<rect class="o" x="420" y="56.5" width="45" height="7"/>
<use href="#G" x="0"/><use href="#G" x="45"/><use href="#G" x="60"/><use href="#G" x="105"/><use href="#G" x="120"/><use href="#G" x="165"/><use href="#G" x="180"/><use href="#G" x="210"/><use href="#G" x="225"/>
<use href="#Y" x="0"/><use href="#Y" x="45"/><use href="#Y" x="60"/><use href="#Y" x="105"/><use href="#Y" x="120"/><use href="#Y" x="165"/><use href="#Y" x="180"/>
<use href="#R" x="240"/><use href="#B" x="240"/><use href="#G" x="330"/><use href="#O" x="420"/>
<use href="#R" x="480"/><use href="#R" x="495"/><use href="#R" x="510"/><use href="#R" x="525"/><use href="#R" x="540"/><use href="#R" x="555"/><use href="#R" x="570"/><use href="#R" x="585"/><use href="#R" x="600"/><use href="#R" x="615"/><use href="#R" x="630"/><use href="#R" x="645"/><use href="#R" x="660"/><use href="#R" x="675"/><use href="#R" x="690"/><use href="#R" x="705"/>
<use href="#Y" x="720"/><use href="#Y" x="735"/><use href="#Y" x="750"/><use href="#Y" x="765"/><use href="#Y" x="780"/><use href="#Y" x="795"/><use href="#Y" x="810"/><use href="#Y" x="825"/><use href="#Y" x="840"/><use href="#Y" x="855"/><use href="#Y" x="870"/><use href="#Y" x="885"/><use href="#Y" x="900"/><use href="#Y" x="915"/><use href="#Y" x="930"/><use href="#Y" x="945"/>
<rect class="ac" x="0" y="0" width="960" height="60"/>
<text class="l1" y="75.2"><tspan x="239">576</tspan><tspan x="479">183</tspan><tspan x="719">576</tspan><tspan x="959">576</tspan></text>
<text class="l2" y="88.5"><tspan x="239">52861</tspan><tspan x="479">54325</tspan><tspan x="719">58933</tspan><tspan x="959">63541</tspan></text>
<text class="l3" y="101.7"><tspan x="239">74.98%</tspan><tspan x="479">62.48%</tspan><tspan x="719">49.98%</tspan><tspan x="959">37.48%</tspan></text>
</g>

<g id="row22" transform="translate(31,3430.5)">
<text class="tp" y="-33.5"><tspan x="0">♩=128</tspan><tspan x="240">♩=127</tspan><tspan x="480">♩=126</tspan><tspan x="720">♩=125</tspan></text>
<text class="mn" y="-8"><tspan x="0">85</tspan><tspan x="240">86</tspan><tspan x="480">87</tspan><tspan x="720">88</tspan></text>
<use href="#st4"/>
<use href="#B" x="0"/><use href="#B" x="15"/><use href="#B" x="30"/><use href="#B" x="45"/><use href="#B" x="60"/><use href="#B" x="75"/><use href="#B" x="90"/><use href="#B" x="105"/><use href="#B" x="120"/><use href="#B" x="135"/><use href="#B" x="150"/><use href="#B" x="165"/><use href="#B" x="180"/><use href="#B" x="195"/><use href="#B" x="210"/><use href="#B" x="225"/>
<use href="#SO" x="240"/><use href="#SO" x="255"/><use href="#SO" x="270"/><use href="#SO" x="285"/><use href="#SO" x="300"/><use href="#SO" x="315"/><use href="#SO" x="330"/>
<use href="#SO" x="360"/><use href="#SO" x="375"/><use href="#SO" x="390"/><use href="#SO" x="405"/><use href="#SO" x="420"/><use href="#SO" x="435"/><use href="#SO" x="450"/><use href="#SO" x="465"/>
<use href="#R" x="480"/><use href="#R" x="495"/><use href="#R" x="510"/><use href="#R" x="525"/><use href="#R" x="540"/><use href="#R" x="555"/><use href="#R" x="570"/><use href="#R" x="585"/><use href="#R" x="600"/><use href="#R" x="615"/><use href="#R" x="630"/><use href="#R" x="645"/><use href="#R" x="660"/><use href="#R" x="675"/><use href="#R" x="690"/><use href="#R" x="705"/>
<use href="#Y" x="720"/><use href="#Y" x="750"/><use href="#Y" x="780"/><use href="#Y" x="810"/><use href="#Y" x="840"/><use href="#Y" x="870"/><use href="#G" x="900"/><use href="#G" x="930"/>
<rect class="sp" x="240" y="0" width="225" height="60"/>
<rect class="ac" x="0" y="0" width="960" height="60"/>
<text class="l1" y="75.2"><tspan x="239">576</tspan><tspan x="479">540</tspan><tspan x="719">576</tspan><tspan x="959">288</tspan></text>
<text class="l2" y="88.5"><tspan x="239">68149</tspan><tspan x="479">72469</tspan><tspan x="719">77077</tspan><tspan x="959">79381</tspan></text>
<text class="l3" y="101.7"><tspan x="239">24.98%</tspan><tspan x="479">37.48%</tspan><tspan x="719">24.98%</tspan><tspan x="959">12.48%</tspan></text>
</g>

<g id="row23" transform="translate(31,3583.5)">
<text class="tp" y="-33.5"><tspan x="0">♩=127</tspan><tspan x="240">♩=128</tspan><tspan x="480">♩=123</tspan><tspan x="720">♩=127</tspan></text>
<text class="mn" y="-8"><tspan x="0">89</tspan><tspan x="240">90</tspan><tspan x="480">91</tspan><tspan x="720">92</tspan></text>
<use href="#st4"/>
<rect class="b" x="480" y="41.5" width="45" height="7"/>
<rect class="b" x="540" y="41.5" width="45" height="7"/>
<rect class="y" x="690" y="26.5" width="45" height="7"/>
<use href="#R" x="0"/><use href="#R" x="30"/><use href="#R" x="60"/><use href="#R" x="90"/><use href="#R" x="120"/><use href="#R" x="150"/><use href="#R" x="180"/><use href="#R" x="210"/><use href="#R" x="240"/><use href="#R" x="270"/><use href="#R" x="300"/><use href="#R" x="330"/><use href="#R" x="360"/><use href="#R" x="390"/>
<use href="#O" x="60"/><use href="#O" x="90"/><use href="#O" x="120"/><use href="#O" x="150"/><use href="#O" x="180"/><use href="#O" x="210"/><use href="#O" x="240"/><use href="#O" x="270"/><use href="#O" x="300"/><use href="#O" x="330"/><use href="#O" x="360"/><use href="#O" x="390"/><use href="#O" x="420"/>
<use href="#G" x="420"/>
<use href="#B" x="480"/><use href="#B" x="540"/><use href="#B" x="600"/><use href="#Y" x="630"/><use href="#R" x="660"/><use href="#Y" x="690"/><use href="#O" x="750"/><use href="#B" x="780"/><use href="#Y" x="810"/><use href="#R" x="840"/><use href="#G" x="870"/><use href="#B" x="900"/><use href="#Y" x="930"/>
<rect class="ac" x="0" y="0" width="240" height="60"/>
<path class="el" d="M240,0V60"/>
<text class="l1" y="75.2"><tspan x="239">504</tspan><tspan x="479">504</tspan><tspan x="719">239</tspan><tspan x="959">256</tspan></text>
<text class="l2" y="88.5"><tspan x="239">83413</tspan><tspan x="479">85717</tspan><tspan x="719">86673</tspan><tspan x="959">87697</tspan></text>
<text class="l3" y="101.7"><tspan x="239">0.00%</tspan><tspan x="479">0.00%</tspan><tspan x="719">0.00%</tspan><tspan x="959">0.00%</tspan></text>
</g>

<g id="row24" transform="translate(31,3736.5)">
<text class="tp" y="-33.5"><tspan x="0">♩=125</tspan><tspan x="240">♩=127</tspan><tspan x="480">♩=126</tspan><tspan x="720">♩=125</tspan></text>
<text class="mn" y="-8"><tspan x="0">93</tspan><tspan x="240">94</tspan><tspan x="480">95</tspan><tspan x="720">96</tspan></text>
<use href="#st4"/>
<rect class="y" x="0" y="26.5" width="45" height="7"/>
<rect class="y" x="60" y="26.5" width="45" height="7"/>
<rect class="y" x="210" y="26.5" width="45" height="7"/>
<rect class="b" x="480" y="41.5" width="45" height="7"/>
<rect class="b" x="540" y="41.5" width="45" height="7"/>
<rect class="y" x="690" y="26.5" width="45" height="7"/>
<use href="#Y" x="0"/><use href="#Y" x="60"/><use href="#Y" x="120"/><use href="#G" x="150"/><use href="#R" x="180"/><use href="#Y" x="210"/><use href="#B" x="270"/><use href="#O" x="300"/><use href="#B" x="330"/><use href="#Y" x="360"/><use href="#G" x="390"/><use href="#R" x="420"/><use href="#Y" x="450"/>
<use href="#SB" x="480"/><use href="#SB" x="540"/><use href="#SB" x="600"/><use href="#SY" x="630"/><use href="#SR" x="660"/><use href="#SY" x="690"/>
<use href="#O" x="750"/><use href="#B" x="780"/><use href="#Y" x="810"/><use href="#R" x="840"/><use href="#G" x="870"/><use href="#B" x="900"/><use href="#Y" x="930"/>
<rect class="sp" x="480" y="0" width="255" height="60"/>
<text class="l1" y="75.2"><tspan x="239">239</tspan><tspan x="479">256</tspan><tspan x="719">239</tspan><tspan x="959">256</tspan></text>
<text class="l2" y="88.5"><tspan x="239">88653</tspan><tspan x="479">89677</tspan><tspan x="719">90633</tspan><tspan x="959">91657</tspan></text>
<text class="l3" y="101.7"><tspan x="239">0.00%</tspan><tspan x="479">0.00%</tspan><tspan x="719">25.00%</tspan><tspan x="959">25.00%</tspan></text>
</g>

<g id="row25" transform="translate(31,3889.5)">
<text class="tp" y="-33.5"><tspan x="0">♩=126</tspan><tspan x="240">♩=126</tspan><tspan x="480">♩=127</tspan><tspan x="720">♩=128</tspan></text>
<text class="mn" y="-8"><tspan x="0">97</tspan><tspan x="240">98</tspan><tspan x="480">99</tspan><tspan x="720">100</tspan></text>
<use href="#st4"/>
<rect class="y" x="0" y="26.5" width="45" height="7"/>
<rect class="y" x="60" y="26.5" width="45" height="7"/>
<rect class="y" x="210" y="26.5" width="45" height="7"/>
<rect class="b" x="480" y="41.5" width="45" height="7"/>
<rect class="b" x="540" y="41.5" width="45" height="7"/>
<rect class="y" x="690" y="26.5" width="45" height="7"/>
<use href="#Y" x="0"/><use href="#Y" x="60"/><use href="#Y" x="120"/><use href="#G" x="150"/><use href="#R" x="180"/><use href="#Y" x="210"/><use href="#B" x="270"/><use href="#O" x="300"/><use href="#B" x="330"/><use href="#Y" x="360"/><use href="#G" x="390"/><use href="#R" x="420"/><use href="#Y" x="450"/>
<use href="#B" x="480"/><use href="#B" x="540"/><use href="#B" x="600"/><use href="#Y" x="630"/><use href="#R" x="660"/><use href="#Y" x="690"/>
<use href="#O" x="750"/><use href="#B" x="780"/><use href="#Y" x="810"/><use href="#R" x="840"/><use href="#G" x="870"/><use href="#B" x="900"/><use href="#Y" x="930"/>
<text class="l1" y="75.2"><tspan x="239">239</tspan><tspan x="479">256</tspan><tspan x="719">239</tspan><tspan x="959">256</tspan></text>
<text class="l2" y="88.5"><tspan x="239">92613</tspan><tspan x="479">93637</tspan><tspan x="719">94593</tspan><tspan x="959">95617</tspan></text>
<text class="l3" y="101.7"><tspan x="239">25.00%</tspan><tspan x="479">25.00%</tspan><tspan x="719">25.00%</tspan><tspan x="959">25.00%</tspan></text>
</g>

<g id="row26" transform="translate(31,4042.5)">
<text class="tp" y="-33.5"><tspan x="0">♩=125</tspan><tspan x="240">♩=128</tspan><tspan x="480">♩=128</tspan><tspan x="720">♩=130</tspan></text>
<text class="mn" y="-8"><tspan x="0">101</tspan><tspan x="240">102</tspan><tspan x="480">103</tspan><tspan x="720">104</tspan></text>
<use href="#st4"/>
<rect class="y" x="0" y="26.5" width="45" height="7"/>
<rect class="y" x="60" y="26.5" width="45" height="7"/>
<rect class="b" x="480" y="41.5" width="45" height="7"/>
<rect class="b" x="540" y="41.5" width="45" height="7"/>
<rect class="y" x="690" y="26.5" width="45" height="7"/>
<use href="#Y" x="0"/><use href="#Y" x="60"/><use href="#Y" x="120"/><use href="#G" x="150"/><use href="#R" x="180"/><use href="#Y" x="210"/><use href="#B" x="270"/><use href="#O" x="300"/><use href="#B" x="330"/><use href="#Y" x="360"/><use href="#G" x="390"/><use href="#R" x="420"/><use href="#Y" x="450"/>
<use href="#B" x="480"/><use href="#B" x="540"/><use href="#B" x="600"/><use href="#Y" x="630"/><use href="#R" x="660"/><use href="#Y" x="690"/>
<use href="#O" x="750"/><use href="#B" x="780"/><use href="#Y" x="810"/><use href="#R" x="840"/><use href="#G" x="870"/><use href="#B" x="900"/><use href="#Y" x="930"/>
<rect x="480" y="0" width="4" height="60" fill="#ff8080" fill-opacity=".6"/>
<rect class="ac" x="480" y="0" width="480" height="60"/>
<path class="el" d="M480,0V60"/>
<text class="l1" y="75.2"><tspan x="239">234</tspan><tspan x="479">252</tspan><tspan x="719">239</tspan><tspan x="959">256</tspan></text>
<text class="l2" y="88.5"><tspan x="239">96553</tspan><tspan x="479">97561</tspan><tspan x="719">99477</tspan><tspan x="959">101521</tspan></text>
<text class="l3" y="101.7"><tspan x="239">25.00%</tspan><tspan x="479">25.00%</tspan><tspan x="719">12.75%</tspan><tspan x="959">0.25%</tspan></text>
</g>

<g id="row27" transform="translate(31,4195.5)">
<text class="tp" y="-33.5"><tspan x="0">♩=123</tspan></text>
<text class="mn" y="-8"><tspan x="0">105</tspan></text>
<use href="#m"/>
<rect width="240" height="60" fill="none" stroke="#000" stroke-width="1.2"/>
<rect class="y" x="0" y="26.5" width="45" height="7"/>
<rect class="y" x="60" y="26.5" width="45" height="7"/>
<use href="#Y" x="0"/><use href="#Y" x="60"/><use href="#Y" x="120"/><use href="#G" x="150"/><use href="#R" x="180"/><use href="#Y" x="210"/>
<rect class="ac" x="0" y="0" width="3" height="60"/>
<text class="l1" y="75.2"><tspan x="239">234</tspan></text>
<text class="l2" y="88.5"><tspan x="239">102605</tspan></text>
<text class="l3" y="101.7"><tspan x="239">0.00%</tspan></text>
</g>
</g>
</svg>
